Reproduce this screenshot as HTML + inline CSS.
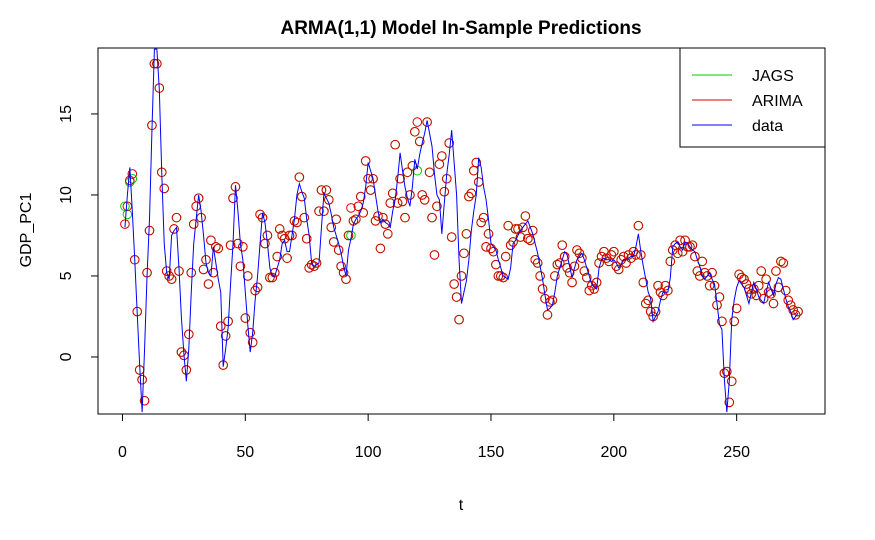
<!DOCTYPE html>
<html><head><meta charset="utf-8"><style>
body{margin:0;background:#fff}
svg{display:block;font-family:"Liberation Sans",Arial,sans-serif}
</style></head><body>
<svg id="chart" width="875" height="540" viewBox="0 0 875 540" xmlns="http://www.w3.org/2000/svg">
<rect width="875" height="540" fill="#fff"/>
<text x="461" y="34" text-anchor="middle" font-size="19" font-weight="bold">ARMA(1,1) Model In-Sample Predictions</text>
<text x="461" y="510" text-anchor="middle" font-size="16">t</text>
<text transform="translate(31,230) rotate(-90)" text-anchor="middle" font-size="16">GDP_PC1</text>
<g id="marks"></g>
<rect x="98" y="48" width="727" height="366" fill="none" stroke="#000" stroke-width="1"/>
<g id="axes"></g>
<g>
<rect x="680" y="48" width="145" height="99" fill="#fff" stroke="#000"/>
<line x1="692" y1="75" x2="732" y2="75" stroke="#00cc00"/>
<text x="752" y="81" font-size="16">JAGS</text>
<line x1="692" y1="100" x2="732" y2="100" stroke="#dd0000"/>
<text x="752" y="106" font-size="16">ARIMA</text>
<line x1="692" y1="125" x2="732" y2="125" stroke="#0000ff"/>
<text x="752" y="131" font-size="16">data</text>
</g>
</svg>
<script>
const xTicks = [0, 50, 100, 150, 200, 250];
const yTicks = [0, 5, 10, 15];
const dataSeries = [8.0,10.0,11.7,9.0,6.0,2.7,-0.5,-3.4,0.5,5.0,
8.5,14.0,19.0,19.0,16.5,11.3,7.0,5.2,4.8,7.5,
7.8,8.0,5.5,2.4,0.2,-1.5,0.5,4.0,7.0,8.5,
10.0,9.0,7.5,5.8,5.2,5.0,6.8,5.8,4.8,4.0,
-0.6,0.5,1.8,4.5,7.0,10.6,9.0,7.0,6.0,4.0,
2.0,0.3,1.5,3.5,5.0,7.0,8.9,8.3,7.0,5.5,
5.0,5.0,5.5,6.0,7.0,7.2,6.5,6.5,7.5,8.5,
10.0,10.7,10.2,9.8,8.5,7.5,5.8,5.6,5.7,5.8,
8.0,10.1,9.8,9.5,8.8,8.0,7.5,7.0,6.4,5.6,
5.0,6.6,7.3,8.2,8.5,8.7,9.0,9.5,10.5,12.0,
11.5,11.0,10.0,9.0,8.3,8.5,8.3,8.2,8.0,9.0,
9.7,11.0,12.6,11.5,10.5,9.8,9.3,10.5,12.2,11.6,
12.5,13.2,13.8,14.6,13.8,13.0,11.3,10.0,9.7,7.6,
9.5,11.3,12.5,14.0,12.0,10.0,6.0,3.3,4.0,4.7,
6.0,7.8,9.0,10.0,12.3,11.7,10.5,9.7,8.5,7.0,
6.8,6.6,6.0,5.5,5.0,4.9,4.8,5.5,7.0,7.2,
7.5,7.8,8.0,8.2,8.4,8.0,7.6,7.0,6.4,5.6,
4.8,3.8,2.9,3.0,3.2,4.0,5.0,5.5,6.0,6.5,
6.3,5.6,4.9,5.5,6.0,6.2,6.4,6.0,5.5,5.0,
4.5,4.3,4.2,5.5,6.0,6.1,6.0,6.0,5.9,6.0,
5.8,5.5,5.7,6.0,6.0,6.1,6.2,6.2,6.8,7.6,
6.5,5.6,4.8,4.0,3.6,2.2,2.5,2.8,3.5,4.0,
4.0,4.0,4.9,6.8,7.0,7.1,6.8,6.6,7.1,7.0,
6.8,6.6,6.5,6.0,5.6,5.0,4.8,5.0,5.2,4.8,
4.5,3.3,2.0,1.7,-1.4,-3.4,-1.5,2.3,3.5,4.3,
4.7,4.5,4.3,3.8,3.3,4.0,4.6,4.2,3.7,3.5,
3.3,4.0,4.6,4.2,3.8,4.5,4.9,4.8,4.2,3.6,
3.1,2.8,2.3,2.5,2.7];
const arimaSeries = [8.2,9.3,10.9,11.3,6.0,2.8,-0.8,-1.4,-2.7,5.2,
7.8,14.3,18.1,18.1,16.6,11.4,10.4,5.3,5.0,4.8,
7.9,8.6,5.3,0.3,0.1,-0.8,1.4,5.2,8.2,9.3,
9.8,8.6,5.4,6.0,4.5,7.2,5.2,6.8,6.7,1.9,
-0.5,1.3,2.2,6.9,9.8,10.5,7.0,5.6,6.8,2.4,
5.0,1.5,0.9,4.1,4.3,8.8,8.6,7.0,7.5,4.9,
4.9,5.2,6.2,7.9,7.5,7.3,6.1,7.5,7.5,8.4,
8.3,11.1,9.9,8.6,7.3,5.5,5.7,5.6,5.8,9.0,
10.3,9.0,10.3,9.7,8.0,7.1,8.5,6.6,5.6,5.2,
4.8,7.5,9.2,8.4,8.5,9.3,9.9,8.9,12.1,11.0,
10.3,11.0,8.4,8.7,6.7,8.6,8.2,7.6,9.5,10.1,
13.1,9.5,11.0,9.6,8.6,11.4,10.0,11.8,13.9,14.5,
13.3,10.0,9.7,14.5,11.4,8.6,6.3,9.3,11.9,12.4,
10.2,11.0,13.2,7.4,4.5,3.7,2.3,5.0,6.4,7.6,
9.9,10.1,11.5,12.0,10.8,8.3,8.6,6.8,7.6,6.7,
6.5,5.7,5.0,5.0,4.9,6.2,8.1,6.9,7.1,7.9,
7.9,7.4,8.0,8.7,7.3,7.2,7.8,6.0,5.8,5.0,
4.2,3.6,2.6,3.4,3.5,5.0,5.7,5.8,6.9,6.2,
5.5,5.2,4.6,5.6,6.6,6.4,6.1,5.3,4.9,4.1,
4.4,4.2,4.6,5.8,6.2,6.5,6.1,5.9,6.3,6.5,
5.6,5.4,6.0,6.2,5.8,6.3,6.1,6.5,6.3,8.1,
6.3,4.6,3.3,3.5,2.8,2.5,2.8,4.4,4.0,3.8,
4.4,4.1,5.9,6.6,6.9,6.4,7.2,6.5,7.2,6.8,
6.8,6.9,6.2,5.3,5.0,5.9,5.2,5.0,4.4,5.2,
4.4,3.2,3.7,2.2,-1.0,-0.9,-2.8,-1.5,2.2,3.0,
5.1,4.9,4.8,4.5,4.2,3.9,4.2,3.8,4.4,5.3,
3.6,4.8,4.0,3.9,3.3,5.3,4.3,5.9,5.8,4.1,
3.5,3.2,2.9,2.6,2.8];
const jagsSeries = [9.3,8.8,10.8,11.0,6.0,2.8,-0.8,-1.4,-2.7,5.2,
7.8,14.3,18.1,18.1,16.6,11.4,10.4,5.3,5.0,4.8,
7.9,8.6,5.3,0.3,0.1,-0.8,1.4,5.2,8.2,9.3,
9.8,8.6,5.4,6.0,4.5,7.2,5.2,6.8,6.7,1.9,
-0.5,1.3,2.2,6.9,9.8,10.5,7.0,5.6,6.8,2.4,
5.0,1.5,0.9,4.1,4.3,8.8,8.6,7.0,7.5,4.9,
4.9,5.2,6.2,7.9,7.5,7.3,6.1,7.5,7.5,8.4,
8.3,11.1,9.9,8.6,7.3,5.5,5.7,5.6,5.8,9.0,
10.3,9.0,10.3,9.7,8.0,7.1,8.5,6.6,5.6,5.2,
4.8,7.5,7.5,8.4,8.5,9.3,9.9,8.9,12.1,11.0,
10.3,11.0,8.4,8.7,6.7,8.6,8.2,7.6,9.5,10.1,
13.1,9.5,11.0,9.6,8.6,11.4,10.0,11.8,13.9,11.5,
13.3,10.0,9.7,14.5,11.4,8.6,6.3,9.3,11.9,12.4,
10.2,11.0,13.2,7.4,4.5,3.7,2.3,5.0,6.4,7.6,
9.9,10.1,11.5,12.0,10.8,8.3,8.6,6.8,7.6,6.7,
6.5,5.7,5.0,5.0,4.9,6.2,8.1,6.9,7.1,7.9,
7.9,7.4,8.0,8.7,7.3,7.2,7.8,6.0,5.8,5.0,
4.2,3.6,2.6,3.4,3.5,5.0,5.7,5.8,6.9,6.2,
5.5,5.2,4.6,5.6,6.6,6.4,6.1,5.3,4.9,4.1,
4.4,4.2,4.6,5.8,6.2,6.5,6.1,5.9,6.3,6.5,
5.6,5.4,6.0,6.2,5.8,6.3,6.1,6.5,6.3,8.1,
6.3,4.6,3.3,3.5,2.8,2.5,2.8,4.4,4.0,3.8,
4.4,4.1,5.9,6.6,6.9,6.4,7.2,6.5,7.2,6.8,
6.8,6.9,6.2,5.3,5.0,5.9,5.2,5.0,4.4,5.2,
4.4,3.2,3.7,2.2,-1.0,-0.9,-2.8,-1.5,2.2,3.0,
5.1,4.9,4.8,4.5,4.2,3.9,4.2,3.8,4.4,5.3,
3.6,4.8,4.0,3.9,3.3,5.3,4.3,5.9,5.8,4.1,
3.5,3.2,2.9,2.6,2.8];

const NS = "http://www.w3.org/2000/svg";
const X0 = 98, X1 = 825, Y0 = 48, Y1 = 414;
const n = dataSeries.length;
const xmin = 1 - 0.04 * (n - 1), xmax = n + 0.04 * (n - 1);
const ymin = -3.52, ymax = 19.07;
function xs(t) { return X0 + (t - xmin) / (xmax - xmin) * (X1 - X0); }
function ys(v) { return Y1 - (v - ymin) / (ymax - ymin) * (Y1 - Y0); }

const marks = document.getElementById('marks');
const axes = document.getElementById('axes');

function mk(tag, attrs, parent) {
  const e = document.createElementNS(NS, tag);
  for (const k in attrs) e.setAttribute(k, attrs[k]);
  parent.appendChild(e);
  return e;
}

const clip = mk('clipPath', {id: 'plotclip'}, marks);
mk('rect', {x: X0, y: Y0, width: X1 - X0, height: Y1 - Y0}, clip);
const plotG = mk('g', {'clip-path': 'url(#plotclip)'}, marks);



const gJ = mk('g', {}, plotG);


jagsSeries.forEach((v, i) => {
  const c = mk('circle', {cx: xs(i + 1), cy: ys(v), r: 4.3, fill: 'none', stroke: '#00cc00', 'stroke-width': 1}, gJ);
  
  
});
const gA = mk('g', {}, plotG);


arimaSeries.forEach((v, i) => {
  const c = mk('circle', {cx: xs(i + 1), cy: ys(v), r: 4.3, fill: 'none', stroke: '#dd0000', 'stroke-width': 1}, gA);
  
  
});
const pts = dataSeries.map((v, i) => xs(i + 1).toFixed(2) + ',' + ys(v).toFixed(2)).join(' ');
const line = mk('polyline', {points: pts, fill: 'none', stroke: '#0000ff', 'stroke-width': 1}, plotG);



const xl = mk('line', {x1: xs(xTicks[0]), x2: xs(xTicks[xTicks.length - 1]), y1: Y1, y2: Y1, stroke: '#000'}, axes);


xTicks.forEach(t => {
  const tk = mk('line', {x1: xs(t), x2: xs(t), y1: Y1, y2: Y1 + 7, stroke: '#000'}, axes);
  
  
  const tx = mk('text', {x: xs(t), y: Y1 + 43, 'text-anchor': 'middle', 'font-size': 16}, axes);
  tx.textContent = t;
  
  
});
const yl = mk('line', {x1: X0, x2: X0, y1: ys(yTicks[0]), y2: ys(yTicks[yTicks.length - 1]), stroke: '#000'}, axes);


yTicks.forEach(v => {
  const tk = mk('line', {x1: X0 - 7, x2: X0, y1: ys(v), y2: ys(v), stroke: '#000'}, axes);
  
  
  const tx = mk('text', {transform: 'translate(' + (X0 - 27) + ',' + ys(v) + ') rotate(-90)', 'text-anchor': 'middle', 'font-size': 16}, axes);
  tx.textContent = v;
  
  
});
</script>
</body></html>
